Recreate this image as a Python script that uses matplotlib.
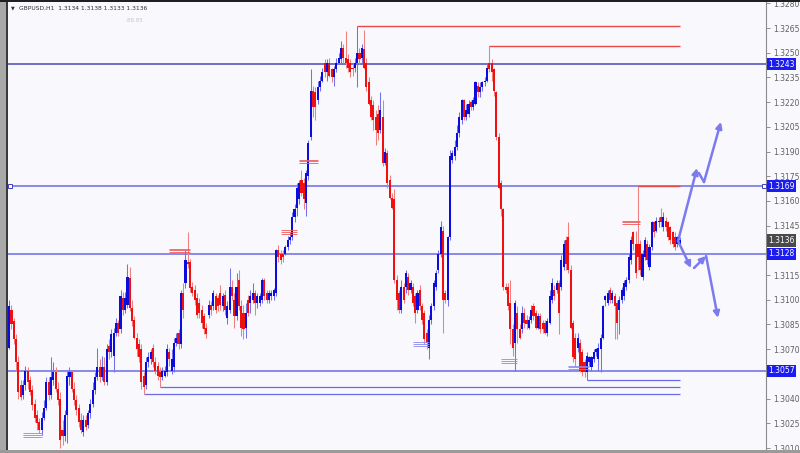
import matplotlib
matplotlib.use("Agg")
import matplotlib.pyplot as plt
from matplotlib.patches import Rectangle
import numpy as np

# GBPUSD H1 candles, values in pips above 1.3000
base = 1.3000
opens = [
    71, 94, 87, 76, 62, 48, 42, 48, 57, 51,
    45, 37, 30, 26, 21, 28, 34, 50, 42, 51,
    56, 46, 40, 21, 17, 30, 53, 56, 46, 39,
    34, 27, 20, 27, 24, 31, 37, 45, 53, 59,
    53, 59, 50, 72, 68, 66, 80, 86, 82, 101,
    94, 97, 113, 95, 88, 77, 73, 70, 54, 48,
    62, 64, 71, 62, 60, 56, 53, 54, 56, 68,
    57, 59, 74, 80, 73, 104, 110, 123, 123, 108,
    106, 101, 98, 94, 90, 83, 91, 97, 96, 102,
    101, 104, 96, 103, 89, 94, 108, 100, 90, 112,
    96, 92, 83, 100, 98, 100, 104, 98, 98, 100,
    112, 104, 100, 102, 102, 104, 130, 128, 128, 128,
    132, 136, 138, 150, 156, 161, 173, 171, 159, 175,
    199, 227, 226, 221, 229, 233, 244, 238, 244, 240,
    235, 240, 244, 246, 253, 247, 246, 244, 241, 241,
    244, 250, 247, 252, 244, 232, 221, 218, 211, 213,
    203, 211, 183, 189, 173, 162, 161, 112, 104, 94,
    108, 108, 114, 106, 108, 102, 94, 106, 96, 92,
    80, 71, 88, 96, 108, 118, 128, 142, 104, 100,
    138, 185, 187, 193, 201, 209, 221, 211, 213, 220,
    217, 219, 230, 226, 229, 232, 233, 244, 244, 240,
    226, 199, 171, 155, 108, 108, 98, 82, 74, 92,
    82, 82, 92, 88, 83, 88, 96, 92, 83, 90,
    86, 86, 80, 86, 100, 106, 106, 110, 108, 120,
    136, 138, 118, 86, 77, 71, 74, 68, 62, 56,
    62, 59, 64, 68, 64, 70, 77, 100, 98, 106,
    100, 102, 98, 94, 100, 102, 108, 112, 124, 141,
    134, 134, 134, 114, 126, 134, 120, 132, 147, 142,
    147, 150, 144, 148, 147, 144, 141, 138, 134, 134,
]
closes = [
    96, 85, 76, 62, 44, 41, 48, 57, 50, 44,
    36, 28, 25, 21, 28, 34, 50, 42, 53, 56,
    46, 39, 15, 17, 30, 54, 56, 46, 39, 33,
    26, 21, 27, 23, 31, 37, 45, 53, 59, 53,
    59, 50, 70, 68, 79, 80, 86, 80, 102, 94,
    101, 114, 95, 87, 77, 70, 65, 50, 47, 62,
    65, 68, 62, 57, 54, 53, 57, 57, 70, 64,
    64, 74, 77, 73, 104, 94, 124, 122, 107, 104,
    100, 91, 92, 86, 82, 79, 97, 94, 104, 94,
    96, 97, 102, 94, 96, 108, 102, 90, 108, 96,
    83, 82, 92, 92, 102, 104, 98, 102, 102, 112,
    102, 100, 104, 104, 106, 130, 126, 124, 126, 132,
    136, 138, 150, 155, 168, 171, 165, 161, 177, 195,
    227, 217, 217, 229, 233, 238, 238, 244, 236, 235,
    240, 244, 247, 253, 247, 244, 241, 238, 240, 244,
    250, 246, 253, 241, 229, 219, 211, 209, 203, 201,
    215, 183, 190, 171, 162, 156, 112, 100, 94, 108,
    100, 116, 106, 110, 98, 92, 104, 96, 88, 76,
    74, 88, 96, 110, 116, 128, 144, 100, 100, 138,
    187, 189, 193, 201, 211, 221, 211, 215, 219, 217,
    221, 232, 226, 229, 232, 233, 241, 240, 238, 227,
    199, 168, 155, 108, 106, 96, 82, 71, 98, 82,
    77, 92, 86, 85, 88, 94, 90, 83, 90, 82,
    82, 80, 87, 102, 110, 102, 110, 92, 124, 134,
    122, 118, 83, 65, 64, 77, 57, 56, 56, 66,
    65, 65, 68, 70, 71, 77, 96, 102, 104, 100,
    104, 96, 86, 100, 106, 110, 112, 126, 136, 134,
    116, 126, 118, 128, 136, 124, 132, 147, 141, 148,
    148, 147, 150, 144, 138, 136, 134, 132, 138, 136,
]
highs = [
    100, 97, 89, 79, 66, 51, 51, 60, 59, 54,
    48, 40, 33, 28, 32, 39, 53, 53, 65, 62,
    59, 50, 44, 27, 33, 57, 59, 57, 50, 42,
    37, 31, 30, 30, 33, 40, 50, 56, 71, 64,
    66, 65, 73, 76, 82, 83, 89, 88, 106, 105,
    105, 122, 120, 100, 90, 80, 76, 73, 56, 65,
    68, 70, 73, 65, 62, 59, 59, 60, 73, 71,
    70, 77, 80, 82, 106, 110, 130, 141, 125, 111,
    109, 104, 101, 97, 92, 86, 100, 99, 106, 104,
    103, 109, 104, 106, 99, 119, 112, 104, 116, 118,
    100, 97, 98, 103, 106, 110, 106, 104, 104, 113,
    113, 106, 106, 106, 107, 131, 133, 130, 130, 133,
    139, 141, 153, 158, 171, 173, 179, 174, 179, 197,
    240, 230, 229, 233, 236, 241, 246, 246, 247, 241,
    242, 247, 250, 257, 255, 263, 249, 246, 244, 247,
    266, 253, 255, 264, 247, 235, 224, 221, 215, 218,
    226, 221, 192, 191, 176, 165, 167, 115, 106, 112,
    110, 118, 116, 112, 110, 104, 106, 109, 98, 94,
    82, 91, 98, 112, 118, 130, 148, 145, 106, 139,
    191, 191, 197, 206, 214, 222, 222, 219, 221, 221,
    223, 233, 232, 232, 233, 235, 244, 254, 246, 241,
    227, 201, 173, 156, 110, 110, 112, 85, 100, 96,
    85, 96, 95, 91, 90, 97, 98, 94, 92, 92,
    88, 88, 89, 106, 113, 109, 112, 112, 127, 136,
    139, 147, 121, 88, 80, 80, 76, 70, 64, 68,
    66, 66, 70, 71, 74, 79, 97, 103, 106, 108,
    106, 104, 100, 102, 108, 112, 114, 128, 139, 142,
    142, 169, 136, 130, 138, 136, 134, 148, 148, 150,
    150, 156, 153, 150, 148, 145, 142, 141, 139, 138,
]
lows = [
    70, 82, 73, 57, 40, 39, 40, 45, 46, 42,
    33, 26, 21, 19, 18, 27, 33, 39, 40, 48,
    44, 36, 10, 12, 14, 13, 48, 44, 36, 30,
    23, 19, 17, 21, 22, 28, 35, 43, 51, 50,
    51, 48, 48, 64, 65, 56, 78, 78, 80, 91,
    92, 95, 93, 84, 76, 66, 62, 46, 43, 46,
    59, 61, 59, 55, 51, 47, 51, 53, 54, 60,
    55, 56, 72, 70, 71, 89, 107, 119, 105, 102,
    97, 89, 89, 83, 79, 77, 89, 91, 94, 92,
    93, 94, 93, 91, 85, 92, 100, 83, 88, 94,
    78, 76, 77, 90, 92, 98, 91, 95, 96, 98,
    100, 98, 98, 100, 100, 102, 123, 122, 123, 127,
    130, 134, 136, 147, 151, 158, 163, 155, 151, 173,
    197, 211, 209, 219, 227, 232, 235, 233, 235, 232,
    230, 238, 243, 244, 244, 241, 238, 235, 236, 238,
    229, 243, 244, 240, 227, 218, 209, 203, 194, 197,
    201, 181, 182, 168, 161, 155, 110, 94, 92, 92,
    98, 104, 103, 104, 96, 86, 92, 94, 85, 73,
    70, 64, 85, 94, 106, 116, 126, 80, 98, 96,
    136, 183, 185, 191, 199, 207, 209, 209, 211, 215,
    215, 218, 223, 223, 227, 230, 232, 238, 233, 224,
    197, 167, 151, 106, 104, 94, 73, 66, 57, 74,
    76, 80, 83, 82, 82, 86, 88, 82, 82, 80,
    80, 79, 78, 85, 98, 100, 104, 79, 106, 118,
    118, 116, 82, 62, 60, 68, 56, 54, 53, 51,
    60, 57, 62, 66, 57, 56, 76, 96, 97, 98,
    98, 76, 76, 79, 98, 100, 106, 110, 122, 130,
    113, 118, 115, 112, 124, 122, 118, 130, 138, 141,
    144, 144, 142, 142, 136, 134, 132, 130, 132, 133,
]

title = "GBPUSD,H1  1.3134 1.3138 1.3133 1.3136"
last_price = 1.3136
# horizontal support / resistance lines drawn across the whole chart
levels = [1.3243, 1.3169, 1.3128, 1.3057]
# short resistance lines starting at a swing high (bar index)
red_levels = [1.3266, 1.3254, 1.3169]
red_start = [150, 207, 271]
# short support lines starting at a swing low
low_levels = [1.3043, 1.3047, 1.3051]
low_start = [58, 65, 249]
# small triple-line marks: (first bar, last bar, price, colour)
mark_from = [69, 117, 125, 174, 212, 241, 264, 6]
mark_to = [78, 124, 133, 181, 219, 250, 272, 14]
mark_price = [1.3130, 1.3141, 1.3184, 1.3073, 1.3063, 1.3059, 1.3147, 1.3018]
mark_red = [True, True, True, False, False, False, True, False]
# projected scenario arrows (bar index, price)
up_path_x = [288.3, 296.5, 297.3, 299.5, 306.8]
up_path_y = [1.31357, 1.31800, 1.31770, 1.31715, 1.32080]
down_path_x = [288.3, 293.9, 295.2, 300.4, 305.5]
down_path_y = [1.31357, 1.31193, 1.31193, 1.31266, 1.30890]

o = base + np.array(opens) / 1e4
c = base + np.array(closes) / 1e4
h = base + np.array(highs) / 1e4
l = base + np.array(lows) / 1e4
x = np.arange(len(o))
up = c >= o

bg = "#f8f8fd"
blue = "#0c0cdc"
red = "#f01010"
blue_wick = "#7272ec"
red_wick = "#f08080"
line_blue = "#6a6ae8"

fig = plt.figure(figsize=(8, 4.53), dpi=100, facecolor=bg)
ax = fig.add_axes([8 / 800, 3 / 453, 758 / 800, 448 / 453])
ax.set_facecolor(bg)

ax.vlines(x[up], l[up], h[up], color=blue_wick, lw=0.75, zorder=2)
ax.vlines(x[~up], l[~up], h[~up], color=red_wick, lw=0.75, zorder=2)
body_lo = np.minimum(o, c)
body_h = np.maximum(np.abs(c - o), 0.00003)
ax.bar(x[up], body_h[up], bottom=body_lo[up], width=0.88, color=blue, lw=0, zorder=3)
ax.bar(x[~up], body_h[~up], bottom=body_lo[~up], width=0.88, color=red, lw=0, zorder=3)

xmax = 758 / 2.32 - 0.5
ax.set_xlim(-0.5, xmax)
ax.set_ylim(1.30088, 1.32808)

for i, p in enumerate(levels):
    col = "#4848b8" if i == 0 else line_blue
    ax.axhline(p, color=col, lw=1.1, zorder=1)

last = len(o) - 1
for p, s in zip(red_levels, red_start):
    ax.hlines(p, s, last, color="#e84848", lw=1.0, zorder=4)
for p, s in zip(low_levels, low_start):
    ax.hlines(p, s, last, color=line_blue, lw=0.9, zorder=1)

for a, b, p, r in zip(mark_from, mark_to, mark_price, mark_red):
    col = "#ee5a5a" if r else "#8a8aee"
    for k in (-1, 0, 1):
        ax.hlines(p + k * 0.00011, a, b, color=col, lw=0.6, zorder=4)

# selected-object squares on the 1.3169 line
ax.plot([0.002, 0.998], [levels[1], levels[1]], ls="none", marker="s", ms=3,
        mfc="white", mec="#4040c0", mew=0.7, transform=ax.get_yaxis_transform(),
        clip_on=False, zorder=6)

arrow_col = "#7b7bef"
def seg(x0, y0, x1, y1, head=True):
    ax.annotate("", xy=(x1, y1), xytext=(x0, y0),
                arrowprops=dict(arrowstyle="-|>" if head else "-", color=arrow_col,
                                lw=1.8, mutation_scale=9, shrinkA=0, shrinkB=0),
                zorder=5, annotation_clip=False)

seg(up_path_x[0], up_path_y[0], up_path_x[1], up_path_y[1])
seg(up_path_x[2], up_path_y[2], up_path_x[3], up_path_y[3], head=False)
seg(up_path_x[3], up_path_y[3], up_path_x[4], up_path_y[4])
seg(down_path_x[0], down_path_y[0], down_path_x[1], down_path_y[1])
seg(down_path_x[2], down_path_y[2], down_path_x[3], down_path_y[3])
seg(down_path_x[3], down_path_y[3], down_path_x[4], down_path_y[4])

# right price scale; labels hidden behind the coloured price boxes are left blank
ticks = np.round(np.arange(1.3010, 1.32801, 0.0015), 4)
covered = [1.3130, 1.3055]
ax.yaxis.tick_right()
ax.set_yticks(ticks)
ax.set_yticklabels(["" if t in covered else f"{t:.4f}" for t in ticks])
ax.tick_params(axis="y", length=3, width=0.6, color="#808080", labelsize=5.5,
               labelcolor="#606060", pad=2)
ax.set_xticks([])
for side in ("top", "left", "bottom"):
    ax.spines[side].set_visible(False)
ax.spines["right"].set_color("#8a8a8a")
ax.spines["right"].set_linewidth(0.8)

ytr = ax.get_yaxis_transform()
for p in levels:
    ax.text(1.003, p, f"{p:.4f}", transform=ytr, ha="left", va="center", fontsize=5.5,
            color="white", bbox=dict(boxstyle="square,pad=0.2", fc="#1c1cf2", ec="none"),
            zorder=7, clip_on=False)
ax.text(1.003, last_price, f"{last_price:.4f}", transform=ytr, ha="left", va="center",
        fontsize=5.5, color="white",
        bbox=dict(boxstyle="square,pad=0.2", fc="#4a4a4a", ec="none"), zorder=7, clip_on=False)

# window frame
fig.patches.append(Rectangle((0, 0), 6 / 800, 1, transform=fig.transFigure, fc="#a8a8a8", ec="none"))
fig.patches.append(Rectangle((6 / 800, 0), 1.5 / 800, 1, transform=fig.transFigure, fc="#3a3a3a", ec="none"))
fig.patches.append(Rectangle((0, 0), 1, 3 / 453, transform=fig.transFigure, fc="#9a9a9a", ec="none"))
fig.patches.append(Rectangle((0, 1 - 1.5 / 453), 1, 1.5 / 453, transform=fig.transFigure, fc="#202020", ec="none"))

fig.text(11 / 800, 1 - 8 / 453, "\u25bc", fontsize=3.5, color="#303030", va="center")
fig.text(19 / 800, 1 - 8 / 453, title, fontsize=4.3, color="#303030", va="center")
fig.text(126 / 800, 1 - 21 / 453, "-88.85", fontsize=4, color="#c4c4cc", va="center")

fig.savefig("out.png", dpi=100, facecolor=bg)
